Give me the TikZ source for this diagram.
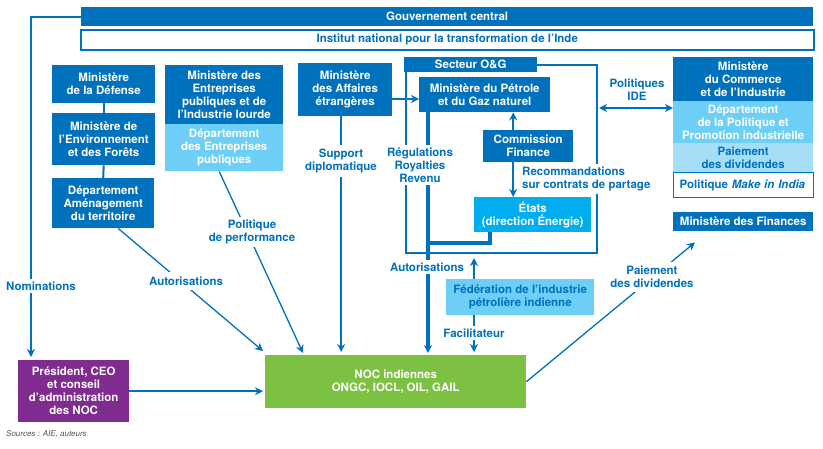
\documentclass[tikz,border=0pt]{standalone}
\usepackage{fontspec}
\setmainfont{TeX Gyre Heros}
\usetikzlibrary{arrows.meta}
\definecolor{dblue}{HTML}{0071BC}
\definecolor{lblue}{HTML}{6DCFF6}
\definecolor{pblue}{HTML}{A6DEF7}
\definecolor{cyanb}{HTML}{00AEEF}
\definecolor{nocg}{HTML}{7DC142}
\definecolor{purp}{HTML}{7F2B8F}
\newcommand\myfs{\fontsize{11.5}{13}\selectfont}
\begin{document}
\begin{tikzpicture}[x=1pt,y=-1pt,
  box/.style={fill=dblue,text=white,font=\bfseries\myfs,align=center,inner sep=0pt,anchor=north west},
  lbl/.style={text=dblue,font=\bfseries\myfs,align=center,fill=white,inner sep=2.5pt},
  thinl/.style={draw=dblue,line width=1.3pt},
  medl/.style={draw=dblue,line width=2pt},
  thickl/.style={draw=dblue,line width=4pt},
  >={Stealth[length=8pt,width=8pt,inset=2.5pt]}]
\useasboundingbox (0,0) rectangle (823,448);
\fill[white] (0,0) rectangle (823,448);

% boxes
\node[box,minimum width=732pt,minimum height=19pt] (gov) at (81,7) {Gouvernement central};
\node[box,fill=white,text=dblue,draw=dblue,line width=1.5pt,minimum width=733pt,minimum height=20pt] (inst) at (80,29) {Institut national pour la transformation de l’Inde};
\node[box,minimum width=103pt,minimum height=38pt] (def) at (52,65) {Ministère\\de la Défense};
\node[box,minimum width=103pt,minimum height=52pt] (env) at (52,113) {Ministère de\\l’Environnement\\et des Forêts};
\node[box,minimum width=102pt,minimum height=50pt] (amen) at (52,178) {Département\\Aménagement\\du territoire};
\node[box,minimum width=118pt,minimum height=59pt] (entr) at (165,65) {Ministère des\\Entreprises\\publiques et de\\l’Industrie lourde};
\node[box,fill=lblue,minimum width=118pt,minimum height=47pt] (dept) at (165,124) {Département\\des Entreprises\\publiques};
\node[box,minimum width=94pt,minimum height=53pt] (mae) at (298,63) {Ministère\\des Affaires\\étrangères};
\node[box,minimum width=133pt,minimum height=15pt] (sect) at (404,57) {Secteur O\&G};
\node[box,minimum width=131pt,minimum height=35pt] (mpng) at (419,77) {Ministère du Pétrole\\et du Gaz naturel};
\node[box,minimum width=90pt,minimum height=32pt] (comm) at (483,130) {Commission\\Finance};
\node[box,fill=cyanb,minimum width=117pt,minimum height=35pt] (etats) at (474,197) {États\\(direction Énergie)};
\node[box,minimum width=140pt,minimum height=44pt] (mci) at (673,57) {Ministère\\du Commerce\\et de l’Industrie};
\node[box,fill=lblue,minimum width=140pt,minimum height=42pt] (dpp) at (673,101) {Département\\de la Politique et\\Promotion industrielle};
\node[box,fill=pblue,text=dblue,minimum width=140pt,minimum height=29pt] (paie) at (673,143) {Paiement\\des dividendes};
\node[box,fill=white,text=dblue,draw=dblue,line width=1.2pt,text width=128pt,inner xsep=6pt,align=left,minimum height=25pt] (make) at (673,172) {Politique \textit{Make in India}};
\node[box,minimum width=140pt,minimum height=19pt] (fin) at (673,212) {Ministère des Finances};
\node[box,fill=lblue,text=dblue,minimum width=148pt,minimum height=36pt] (fed) at (446,279) {Fédération de l’industrie\\pétrolière indienne};
\node[box,fill=purp,minimum width=111pt,minimum height=62pt] (pres) at (18,360) {Président, CEO\\et conseil\\d’administration\\des NOC};
\node[box,fill=nocg,minimum width=261pt,minimum height=53pt] (noc) at (265,355) {NOC indiennes\\ONGC, IOCL, OIL, GAIL};

% helper coordinates
\coordinate (y99) at (0,99);
\coordinate (rx) at ([xshift=9pt]mpng.south west);
\coordinate (ea) at ([xshift=16pt]etats.south west);
\coordinate (eb) at ([yshift=-11pt]ea);
\coordinate (cx) at ([xshift=-15pt]comm.north);
\coordinate (frSE) at (597,253);
\coordinate (frSW) at ([xshift=2pt]sect.south west);
\coordinate (ide) at (599,108);
\coordinate (fx) at ([xshift=28pt]fed.north west);
\coordinate (sx) at ([xshift=-4pt]mae.south);

% connectors
\draw[medl,->,shorten >=3pt] (gov.west) -| ([xshift=13pt]pres.north west);
\draw[medl] (def.south) -- (env.north);
\draw[medl] (env.south) -- (amen.north);
\draw[thinl,->] ([xshift=15pt]amen.south) -- ([xshift=-2pt,yshift=4pt]noc.north west);
\draw[thinl,->] ([xshift=-5pt]dept.south) -- ([xshift=38pt,yshift=2pt]noc.north west);
\draw[medl,->,shorten >=3pt] (sx) -- (sx |- noc.north);
\draw[medl,->] (mae.east |- y99) -- (mpng.west |- y99);
\draw[medl] (sect.east) -| (frSE) -| (frSW);
\draw[thickl,->,shorten >=2pt] (rx) -- (rx |- noc.north);
\draw[thickl] (ea) -- (eb) -- (eb -| rx);
\draw[medl,->] (cx) -- (cx |- mpng.south);
\draw[medl,->] (cx |- comm.south) -- (cx |- etats.north);
\draw[medl,<->] (ide) -- (ide -| dpp.west);
\draw[medl,->,shorten >=5pt] (fx) -- (fx |- frSE);
\draw[medl,->,shorten >=3pt] (fx |- fed.south) -- (fx |- noc.north);
\draw[medl,->,shorten >=2pt] (pres.east) -- (pres.east -| noc.west);
\draw[thinl,->] (noc.east) -- ([xshift=22pt,yshift=-11pt]fin.south west);

% labels
\node[lbl] (lnom) at (41,286) {Nominations};
\node[lbl,inner ysep=5pt] (laut) at (186,281) {Autorisations};
\node[lbl] (lperf) at (252,232) {Politique\\de performance};
\node[lbl,inner ysep=4pt] (lsup) at (341,161) {Support\\diplomatique};
\node[lbl] (lreg) at (420,165) {Régulations\\Royalties\\Revenu};
\node[lbl] (laut2) at (427,267) {Autorisations};
\node[lbl,align=left,anchor=west,inner xsep=1pt] (lrec) at (521,179) {Recommandations\\sur contrats de partage};
\node[lbl,fill=none] (lide) at (637,90) {Politiques\\IDE};
\node[lbl,inner ysep=3pt] (lfac) at (474,333) {Facilitateur};
\node[lbl,inner sep=4pt] (lpaie) at (652,277) {Paiement\\des dividendes};
\node[anchor=west,text=black!65,font=\itshape\fontsize{8}{9}\selectfont,inner sep=0pt] (src) at (6,434) {Sources : AIE, auteurs};
\end{tikzpicture}
\end{document}
